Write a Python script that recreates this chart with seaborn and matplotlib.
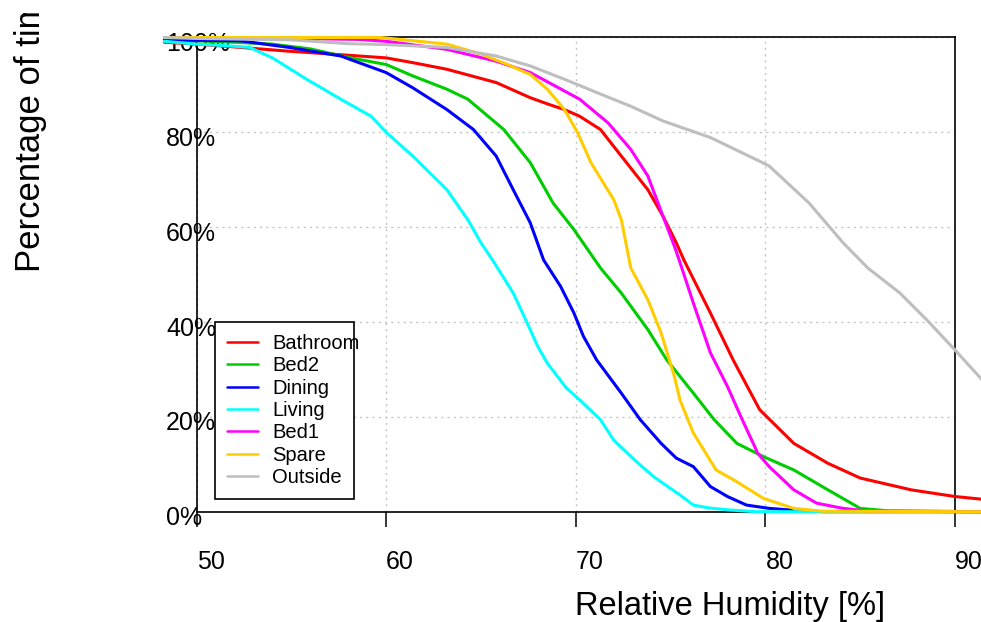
import numpy as np
import pandas as pd
import seaborn as sns
import matplotlib.pyplot as plt
from matplotlib.transforms import Bbox, TransformedBbox, ScaledTranslation

# exceedance curves (RH in %, share of time in %)
rooms = ['Bathroom', 'Bed2', 'Dining', 'Living', 'Bed1', 'Spare', 'Outside']
colours = ['#ff0000', '#00cd00', '#0000ff', '#00ffff', '#ff00ff', '#ffcc00', '#bebebe']

bath_rh = [48.3, 50, 51.4, 54.9, 57.5, 60.0, 61.4, 63.2, 65.8, 67.6, 68.5, 69.4, 70.2, 71.3,
           72.4, 73.8, 74.6, 75.3, 75.7, 77.1, 78.3, 79.7, 81.5, 83.3, 85.0, 87.7, 90.0, 91.5]
bath_pct = [99.0, 98.6, 98.2, 97.1, 96.4, 95.7, 94.7, 93.3, 90.5, 87.3, 86.0, 84.8, 83.4, 80.6,
            75.0, 67.9, 62.3, 56.7, 53.1, 41.9, 32.0, 21.5, 14.4, 10.2, 7.1, 4.6, 3.2, 2.6]

bed2_rh = [48.3, 50, 52, 54, 56, 58, 60.0, 61.4, 63.2, 64.3, 66.2, 67.6, 68.8, 69.9, 71.3,
           72.4, 73.8, 74.8, 76.2, 77.3, 78.5, 79.9, 81.5, 83.3, 85.0, 86.4, 91.5]
bed2_pct = [99.5, 99.3, 99.0, 98.6, 97.6, 95.8, 94.3, 91.9, 89.1, 87.0, 80.6, 73.6, 65.1, 59.5, 51.4,
            46.1, 38.4, 32.0, 25.0, 19.4, 14.4, 11.6, 8.8, 4.6, 0.7, 0.2, 0.0]

dining_rh = [48.3, 50, 52.3, 54.9, 57.6, 60.0, 61.4, 63.2, 64.6, 65.8, 66.7, 67.6, 68.3, 69.2,
             69.9, 70.4, 71.1, 72.4, 73.4, 74.5, 75.3, 76.2, 77.1, 78.0, 79.0, 80.2, 81.5, 83.0, 91.5]
dining_pct = [99.5, 99.4, 99.3, 97.9, 96.1, 92.6, 89.4, 84.8, 80.6, 75.0, 67.9, 60.9, 53.1, 47.5,
              41.9, 37.0, 32.0, 25.0, 19.4, 14.4, 11.3, 9.5, 5.3, 3.2, 1.4, 0.7, 0.3, 0.0, 0.0]

living_rh = [48.3, 50, 51.5, 52.8, 54.0, 55.8, 57.6, 59.2, 60.0, 61.4, 63.2, 64.3, 65.0, 65.7,
             66.7, 67.4, 68.0, 68.5, 69.5, 70.2, 71.3, 72.0, 73.1, 74.1, 75.5, 76.2, 77.0, 78.0, 79.5, 91.5]
living_pct = [99.2, 98.6, 98.3, 97.9, 95.7, 91.2, 87.0, 83.4, 80.0, 75.0, 67.9, 61.6, 56.7, 52.5,
              46.1, 40.1, 34.8, 31.3, 26.1, 23.6, 19.4, 15.1, 10.9, 7.4, 3.5, 1.4, 0.8, 0.4, 0.0, 0.0]

bed1_rh = [48.3, 50, 55, 58.5, 60, 63.2, 65.8, 67.6, 70.2, 71.7, 72.9, 73.8, 74.6, 75.2, 75.5,
           76.2, 77.1, 78.0, 78.7, 79.6, 80.2, 81.5, 82.7, 84.1, 85.5, 91.5]
bed1_pct = [100, 100, 99.8, 99.6, 99.2, 97.5, 95.0, 92.6, 87.0, 82.0, 76.4, 70.8, 62.3, 56.0, 52.5,
            44.0, 33.5, 26.4, 20.1, 12.3, 9.5, 4.6, 1.8, 0.7, 0.1, 0.0]

spare_rh = [48.3, 50, 55, 59.7, 63.2, 65.0, 66.4, 67.6, 68.5, 69.4, 70.1, 70.8, 72.0, 72.4, 72.9,
            73.8, 74.5, 75.2, 75.5, 76.2, 77.4, 78.5, 79.9, 81.5, 83.0, 91.5]
spare_pct = [100, 100, 100, 100, 98.6, 96.5, 94.3, 92.2, 89.1, 84.8, 79.9, 73.6, 65.8, 61.6, 51.4,
             44.7, 37.7, 28.5, 23.5, 16.6, 8.8, 6.3, 2.8, 0.7, 0.1, 0.0]

out_rh = [48.3, 50, 55, 58, 60, 63.2, 65.8, 67.6, 69.4, 71.1, 72.9, 74.6, 77.1, 79.7, 80.2,
          82.3, 84.1, 85.4, 87.1, 88.5, 90.0, 91.5]
out_pct = [100, 99.8, 99.5, 98.7, 98.5, 97.9, 96.1, 94.0, 91.2, 88.4, 85.5, 82.4, 78.9, 73.9, 72.9,
           65.1, 56.7, 51.4, 46.1, 40.5, 34.1, 27.5]

series = [(bath_rh, bath_pct), (bed2_rh, bed2_pct), (dining_rh, dining_pct), (living_rh, living_pct),
          (bed1_rh, bed1_pct), (spare_rh, spare_pct), (out_rh, out_pct)]

x_ticks = [50, 60, 70, 80, 90]
y_ticks = [0, 20, 40, 60, 80, 100]
y_labels = ['0%', '20%', '40%', '60%', '80%', '100%']

sns.set_style('white')
plt.rcParams['font.family'] = ['Liberation Sans', 'DejaVu Sans']
plt.rcParams['text.color'] = 'black'
plt.rcParams['xtick.color'] = 'black'
plt.rcParams['ytick.color'] = 'black'
plt.rcParams['axes.labelcolor'] = 'black'

W, H = 981, 622
fig = plt.figure(figsize=(W / 100, H / 100), dpi=100)
ax = fig.add_axes([196.6 / W, (H - 511.7) / H, (955 - 196.6) / W, (511.7 - 37.5) / H])

for room, clr, (rh, pct) in zip(rooms, colours, series):
    df = pd.DataFrame({'rh': rh, 'pct': pct})
    sns.lineplot(data=df, x='rh', y='pct', color=clr, label=room, ax=ax, estimator=None,
                 sort=False, lw=2.2, clip_on=False, zorder=3)

ax.set_xlim(50, 90)
ax.set_ylim(0, 100)
ax.set_xticks(x_ticks)
ax.set_xticklabels([str(v) for v in x_ticks])
ax.set_yticks(y_ticks)
ax.set_yticklabels(y_labels)
ax.set_xlabel('')
ax.set_ylabel('')

ax.tick_params(axis='x', length=10.8, width=1.1, direction='out', pad=16.6, labelsize=18,
               color='black', labelcolor='black', bottom=True)
ax.tick_params(axis='y', length=0, pad=22, labelsize=18, labelcolor='black')
for lab in ax.get_xticklabels():
    lab.set_ha('left')
for lab in ax.get_yticklabels():
    lab.set_ha('left')
    lab.set_transform(lab.get_transform() + ScaledTranslation(0, -4 / 100, fig.dpi_scale_trans))

ax.grid(True, color='#c4c4c4', linestyle=(0, (1.5, 3)), lw=1.0)
ax.set_axisbelow(True)
for sp in ax.spines.values():
    sp.set_visible(True)
    sp.set_color('black')
    sp.set_linewidth(1.2)

handles, labels = ax.get_legend_handles_labels()
leg = ax.legend(handles, labels, loc='upper left',
                bbox_to_anchor=(215 / W, 1 - 321.7 / H, 139 / W, 0), bbox_transform=fig.transFigure,
                mode='expand', borderaxespad=0, fontsize=14.5, frameon=True, fancybox=False,
                edgecolor='black', framealpha=1, handlelength=1.55, handletextpad=0.7,
                borderpad=0.6, labelspacing=0.17)
leg.get_frame().set_linewidth(1.2)
for ln in leg.get_lines():
    ln.set_linewidth(1.8)
for txt in leg.get_texts():
    txt.set_color('black')

fig.text(730.5 / W, (H - 615) / H, 'Relative Humidity [%]', ha='center', va='baseline',
         fontsize=23.5, color='black')
ylab = fig.text(40 / W, (H - 272) / H, 'Percentage of time', rotation=90, rotation_mode='anchor',
                ha='left', va='baseline', fontsize=25, color='black', clip_on=True)
ylab.set_clip_box(TransformedBbox(Bbox([[0, 0], [1, (H - 13) / H]]), fig.transFigure))

fig.savefig('out.png', dpi=100)
